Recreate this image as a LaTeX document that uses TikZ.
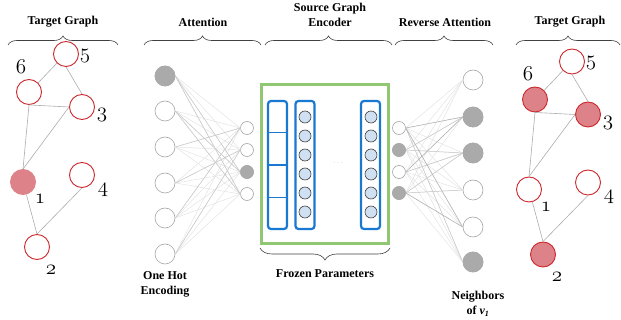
\documentclass[tikz,border=0pt]{standalone}
\usepackage{fontspec}
\usepackage{graphicx}
\setmainfont{Liberation Serif}
\usetikzlibrary{decorations.pathreplacing,calc}
\definecolor{nodered}{RGB}{205,40,45}
\definecolor{nodepink}{RGB}{220,130,136}
\definecolor{encblue}{RGB}{25,120,210}
\definecolor{cellblue}{RGB}{207,224,242}
\definecolor{frozgreen}{RGB}{145,198,115}
\definecolor{nngray}{RGB}{170,170,170}
\newcommand\osd[1]{\scalebox{1.22}{$\fam1 #1$}}
\begin{document}
\begin{tikzpicture}[x=1pt,y=-1pt,
  gnode/.style={circle,draw=nodered,line width=0.9pt,minimum size=25pt,inner sep=0pt,fill=white},
  gfill/.style={gnode,fill=nodepink},
  gedge/.style={draw=gray!65,line width=0.6pt},
  glabel/.style={font=\fontsize{17.28}{20}\selectfont,inner sep=0pt},
  head/.style={font=\fontsize{12}{15}\selectfont\bfseries,align=center,inner sep=0pt},
  brc/.style={decorate,decoration={brace,amplitude=9pt},draw=black!75,line width=0.6pt},
  bign/.style={circle,draw=gray!70,line width=0.6pt,minimum size=20pt,inner sep=0pt,fill=white},
  smn/.style={circle,draw=gray!70,line width=0.6pt,minimum size=13pt,inner sep=0pt,fill=white},
  actv/.style={fill=nngray,draw=nngray},
  lnA/.style={draw=gray!22,line width=0.5pt},
  lnB/.style={draw=gray!42,line width=0.5pt},
  lnC/.style={draw=gray!62,line width=0.5pt},
  bbox/.style={draw=encblue,line width=2.2pt,rounded corners=3pt,minimum width=19pt,minimum height=128pt,inner sep=0pt},
  cell/.style={circle,draw=black!75,line width=0.6pt,fill=cellblue,minimum size=12pt,inner sep=0pt}
]
\useasboundingbox (0,0) rectangle (621,320);

% ---------- headings and braces ----------
\coordinate (tgA) at (8,45);   \coordinate (tgB) at (118,45);
\coordinate (atA) at (144,45); \coordinate (atB) at (261,45);
\coordinate (enA) at (265,45); \coordinate (enB) at (392,45);
\coordinate (raA) at (395,45); \coordinate (raB) at (493,45);
\coordinate (tg2A) at (516,45); \coordinate (tg2B) at (620,45);
\draw[brc] (tgA) -- (tgB);
\draw[brc] (atA) -- (atB);
\draw[brc] (enA) -- (enB);
\draw[brc] (raA) -- (raB);
\draw[brc] (tg2A) -- (tg2B);
\node[head] (htg) at (63,22) {Target Graph};
\node[head] (hat) at (203,22) {Attention};
\node[head] (hen) at (330,15) {Source Graph\\Encoder};
\node[head] (hra) at (445,22) {Reverse Attention};
\node[head] (htg2) at (570,22) {Target Graph};

% ---------- left target graph ----------
\node[gnode] (l5) at (66,54) {};
\node[gnode] (l6) at (29,92) {};
\node[gnode] (l3) at (82,107) {};
\node[gfill,draw=nodepink] (l1) at (23,182) {};
\node[gnode] (l4) at (82,175) {};
\node[gnode] (l2) at (37,247) {};
\draw[gedge] (l5.south west) -- (l6.north east);
\draw[gedge] (l5.south) -- (l3.north);
\draw[gedge] (l6.south) -- (l3.west);
\draw[gedge] (l6.south) -- (l1.north);
\draw[gedge] (l3.west) -- (l1.north);
\draw[gedge] (l1) -- (l2.north);
\draw[gedge] (l4.south) -- (l2.north);
\node[glabel] (tl5) at (85,56) {\osd{5}};
\node[glabel] (tl6) at (21,67) {\osd{6}};
\node[glabel] (tl3) at (102,115) {\osd{3}};
\node[glabel] (tl1) at (40,199) {\osd{1}};
\node[glabel] (tl4) at (103,190) {\osd{4}};
\node[glabel] (tl2) at (51,270) {\osd{2}};

% ---------- right target graph ----------
\node[gnode] (r5) at (572,61.5) {};
\node[gfill] (r6) at (535,99.5) {};
\node[gfill] (r3) at (588,114.5) {};
\node[gnode] (r1) at (529,189.5) {};
\node[gnode] (r4) at (588,182.5) {};
\node[gfill] (r2) at (543,254.5) {};
\draw[gedge] (r5.south west) -- (r6.north east);
\draw[gedge] (r5.south) -- (r3.north);
\draw[gedge] (r6.south) -- (r3.west);
\draw[gedge] (r6.south) -- (r1.north);
\draw[gedge] (r3.west) -- (r1.north);
\draw[gedge] (r1) -- (r2.north);
\draw[gedge] (r4.south) -- (r2.north);
\node[glabel] (tr5) at (591,63) {\osd{5}};
\node[glabel] (tr6) at (528,74) {\osd{6}};
\node[glabel] (tr3) at (608,123) {\osd{3}};
\node[glabel] (tr1) at (546,207) {\osd{1}};
\node[glabel] (tr4) at (609,197) {\osd{4}};
\node[glabel] (tr2) at (557,277) {\osd{2}};

% ---------- attention ----------
\foreach \i/\y in {1/76,2/111,3/147,4/183,5/218,6/254}
  \node[bign] (a\i) at (165,\y) {};
\foreach \j/\y in {1/128,2/150,3/172,4/194}
  \node[smn] (b\j) at (247,\y) {};
\foreach \i in {1,...,6}
  \foreach \j in {1,...,4}
    \draw[lnA] (a\i.east) -- (b\j.west);
\foreach \i/\j in {1/3,1/4,2/3,3/1,4/2,5/1,6/2,2/4}
  \draw[lnB] (a\i.east) -- (b\j.west);
\node[bign,actv] at (a1) {};
\node[smn,actv] at (b3) {};
\node[head] (ohe) at (165,284) {One Hot\\Encoding};

% ---------- reverse attention ----------
\foreach \j/\y in {1/128,2/150,3/172,4/193}
  \node[smn] (c\j) at (399,\y) {};
\foreach \i/\y in {1/80,2/117,3/153,4/190,5/227,6/262}
  \node[bign] (d\i) at (473,\y) {};
\foreach \j in {1,...,4}
  \foreach \i in {1,...,6}
    \draw[lnA] (c\j.east) -- (d\i.west);
\foreach \j/\i in {2/3,3/3,1/6,2/2,4/4,4/3}
  \draw[lnB] (c\j.east) -- (d\i.west);
\foreach \j/\i in {1/2,1/5,3/2,4/5}
  \draw[lnC] (c\j.east) -- (d\i.west);
\node[smn,actv] at (c2) {};
\node[smn,actv] at (c4) {};
\node[bign,actv] at (d2) {};
\node[bign,actv] at (d3) {};
\node[bign,actv] at (d6) {};
\node[head] (nbr) at (478,304) {Neighbors\\of {\itshape v\textsubscript{1}}};

% ---------- source graph encoder ----------
\node[draw=frozgreen,line width=3pt,minimum width=127pt,minimum height=159pt,inner sep=0pt] (enc) at (325,164) {};
\node[bbox] (box1) at (277.5,165) {};
\node[bbox] (box2) at (305,165) {};
\node[bbox] (box3) at (370.5,165) {};
\foreach \t in {0.25,0.5,0.75}
  \draw[encblue,line width=1.5pt] ($(box1.north west)!\t!(box1.south west)$) -- ($(box1.north east)!\t!(box1.south east)$);
\foreach \k/\y in {1/117,2/136,3/155,4/174,5/193,6/212} {
  \node[cell] (e\k) at (305,\y) {};
  \node[cell] (f\k) at (371,\y) {};
}
\node[text=gray!70,font=\fontsize{7}{7}\selectfont,inner sep=0pt] (dots) at (338,163) {$\cdots$};
\coordinate (fzA) at (390,248); \coordinate (fzB) at (260,248);
\draw[brc,decoration={brace,amplitude=12pt}] (fzA) -- (fzB);
\node[head] (fz) at (325,274) {Frozen Parameters};
\end{tikzpicture}
\end{document}
